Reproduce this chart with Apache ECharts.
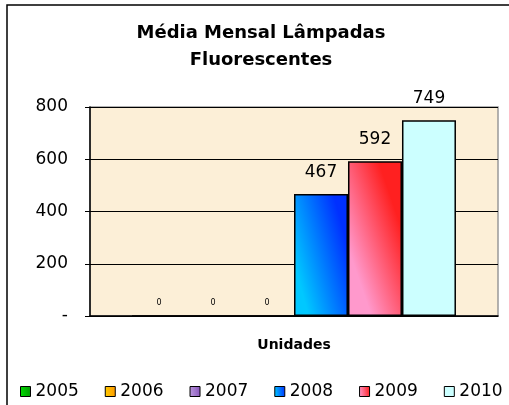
<!DOCTYPE html>
<html>
<head>
<meta charset="utf-8">
<script src="https://cdn.jsdelivr.net/npm/echarts@6/dist/echarts.min.js"></script>
<style>
  html, body { margin: 0; padding: 0; background: #fff; }
  #chart { width: 509px; height: 405px; }
</style>
</head>
<body>
<div id="chart"></div>
<script>
// dados
const categories = ['Unidades']
const years = ['2005', '2006', '2007', '2008', '2009', '2010']
const values = [0, 0, 0, 467, 592, 749]
const yTicks = [0, 200, 400, 600, 800]

// cores (gradiente quase horizontal, claro embaixo-esquerda)
const grad = (a, b) => ({
  type: 'linear', x: 0, y: 0.56, x2: 1, y2: 0.44,
  colorStops: [{ offset: 0, color: a }, { offset: 1, color: b }]
})
const colors = [
  grad('#00DD00', '#009900'),
  grad('#FFCC00', '#FF9900'),
  grad('#BB99DD', '#8855BB'),
  grad('#00C8FF', '#0030FF'),
  grad('#FF99CC', '#FF2020'),
  '#CCFFFF'
]

const FONT = 'DejaVu Sans'
let myChart = echarts.init(document.getElementById('chart'))

const series = years.map((y, i) => ({
  name: y,
  type: 'bar',
  data: [values[i]],
  barGap: '0%',
  barCategoryGap: '20.6%',
  itemStyle: { color: colors[i], borderColor: '#000', borderWidth: 1.5 },
  label: {
    show: true,
    position: 'top',
    distance: values[i] === 0 ? 8 : 13,
    color: '#000',
    fontFamily: FONT,
    fontSize: values[i] === 0 ? 8 : 17
  }
}))

myChart.setOption({
  animation: false,
  textStyle: { fontFamily: FONT },
  title: {
    text: 'Média Mensal Lâmpadas\nFluorescentes',
    left: 256,
    textAlign: 'center',
    top: 15,
    textStyle: { fontFamily: FONT, fontSize: 18, fontWeight: 'bold', color: '#000', lineHeight: 27 }
  },
  legend: {
    data: years,
    left: 20,
    top: 383,
    padding: 0,
    width: 700,
    itemWidth: 10,
    itemHeight: 10,
    itemGap: 26,
    icon: 'rect',
    itemStyle: { borderColor: '#000', borderWidth: 1 },
    textStyle: { fontFamily: FONT, fontSize: 17, color: '#000' }
  },
  graphic: [{
    type: 'rect',
    shape: { x: 7, y: 5, width: 560, height: 460 },
    style: { fill: 'none', stroke: '#000', lineWidth: 1.5 },
    silent: true
  }],
  grid: {
    left: 90, right: 11, top: 107, bottom: 89,
    show: true,
    backgroundColor: '#FCEFD7',
    borderColor: '#999',
    borderWidth: 1.5
  },
  xAxis: {
    type: 'category',
    data: categories,
    axisLine: { lineStyle: { color: '#000', width: 1.5 } },
    axisTick: { show: false },
    axisLabel: { margin: 22, fontFamily: FONT, fontSize: 14, fontWeight: 'bold', color: '#000' }
  },
  yAxis: {
    type: 'value',
    min: yTicks[0],
    max: yTicks[yTicks.length - 1],
    interval: 200,
    axisLine: { show: true, lineStyle: { color: '#000', width: 1.5 } },
    axisTick: { show: true, length: 5, lineStyle: { color: '#000' } },
    axisLabel: {
      margin: 22,
      fontFamily: FONT,
      fontSize: 17,
      color: '#000',
      formatter: v => (v === 0 ? '-' : String(v))
    },
    splitLine: { lineStyle: { color: '#000', width: 1 } }
  },
  series: series
})
window.addEventListener('resize', () => myChart.resize())
</script>
</body>
</html>
